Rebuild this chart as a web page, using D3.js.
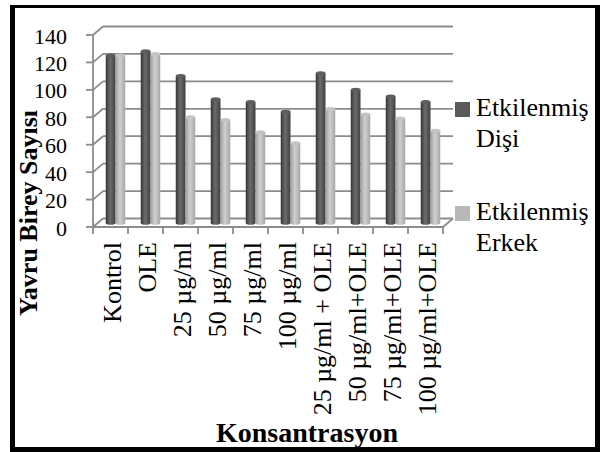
<!DOCTYPE html>
<html lang="tr">
<head>
  <meta charset="UTF-8">
  <title>Yavru Birey Sayısı</title>
  <script src="https://d3js.org/d3.v7.min.js"></script>
  <style>
    body { margin: 0; background: #fff; }
    svg { display: block; }
    text { font-family: "Liberation Serif", "Times New Roman", serif; fill: #000; }
  </style>
</head>
<body>
  <svg id="chart" width="600" height="452"></svg>
  <script>
    // Data
    const categories = ["Kontrol", "OLE", "25 µg/ml", "50 µg/ml", "75 µg/ml", "100 µg/ml",
      "25 µg/ml + OLE", "50 µg/ml+OLE", "75 µg/ml+OLE", "100 µg/ml+OLE"];
    const disi = [122, 125, 107, 90, 88, 81, 109, 97, 92, 88];
    const erkek = [122, 123, 77, 75, 66, 58, 83, 79, 76, 67];
    const yTicks = [0, 20, 40, 60, 80, 100, 120, 140];
    const seriesNames = ["Etkilenmiş Dişi", "Etkilenmiş Erkek"];

    const svg = d3.select("#chart");
    const gridColor = "#8c8c8c";

    // 3D depth offset of the back wall
    const dx = 10, dy = -8.5;

    const x = d3.scaleBand().domain(categories).range([93, 443]);
    const y = d3.scaleLinear().domain([0, 140]).range([227, 35]);
    const xs = d3.scaleBand().domain(["d", "e"]).range([0, 19.5]);

    // cylinder gradients
    const defs = svg.append("defs");
    function grad(id, stops) {
      const g = defs.append("linearGradient").attr("id", id)
        .attr("x1", "0%").attr("x2", "100%").attr("y1", "0%").attr("y2", "0%");
      stops.forEach(s => g.append("stop").attr("offset", s[0]).attr("stop-color", s[1]));
    }
    grad("gDark", [[0, "#353535"], [0.45, "#6c6c6c"], [1, "#404040"]]);
    grad("gLight", [[0, "#9e9e9e"], [0.45, "#d0d0d0"], [1, "#a6a6a6"]]);

    // back wall gridlines
    const grid = svg.append("g").attr("stroke", gridColor).attr("stroke-width", 1.8).attr("fill", "none");
    yTicks.forEach(v => {
      grid.append("line")
        .attr("x1", 93 + dx).attr("x2", 443 + dx)
        .attr("y1", y(v) + dy).attr("y2", y(v) + dy);
      grid.append("line")
        .attr("x1", 93).attr("x2", 93 + dx)
        .attr("y1", y(v)).attr("y2", y(v) + dy);
      grid.append("line")
        .attr("x1", 86).attr("x2", 93)
        .attr("y1", y(v)).attr("y2", y(v));
    });
    // front vertical axis
    grid.append("line").attr("x1", 93).attr("x2", 93).attr("y1", y(140)).attr("y2", y(0));
    // floor
    grid.append("line").attr("x1", 93).attr("x2", 443).attr("y1", y(0)).attr("y2", y(0));
    grid.append("line").attr("x1", 443).attr("x2", 443 + dx).attr("y1", y(0)).attr("y2", y(0) + dy);
    d3.range(categories.length + 1).forEach(i => {
      const xv = i < categories.length ? x(categories[i]) : x.range()[1];
      grid.append("line").attr("x1", xv).attr("x2", xv).attr("y1", y(0)).attr("y2", y(0) + 7);
    });

    // bars (cylinders) at mid depth
    const bars = svg.append("g").attr("transform", `translate(${dx / 2},${dy / 2})`);
    const offset = (x.bandwidth() - 19.5) / 2;
    function cylinder(cx, w, v, fill, topFill) {
      const g = bars.append("g");
      const y0 = y(0), y1 = y(v), ry = 2;
      g.append("ellipse").attr("cx", cx + w / 2).attr("cy", y0).attr("rx", w / 2).attr("ry", ry)
        .attr("fill", fill);
      g.append("rect").attr("x", cx).attr("y", y1).attr("width", w).attr("height", y0 - y1)
        .attr("fill", fill);
      g.append("ellipse").attr("cx", cx + w / 2).attr("cy", y1).attr("rx", w / 2).attr("ry", ry)
        .attr("fill", topFill);
    }
    categories.forEach((c, i) => {
      cylinder(x(c) + offset + xs("d"), xs.bandwidth(), disi[i], "url(#gDark)", "#5e5e5e");
      cylinder(x(c) + offset + xs("e"), xs.bandwidth(), erkek[i], "url(#gLight)", "#c4c4c4");
    });

    // y tick labels
    svg.append("g").selectAll("text").data(yTicks).join("text")
      .attr("x", 67).attr("y", d => y(d) + 8.5)
      .attr("text-anchor", "end").style("font-size", "22px")
      .text(d => d);

    // x tick labels (rotated)
    svg.append("g").selectAll("text").data(categories).join("text")
      .attr("transform", d => `translate(${x(d) + x.bandwidth() / 2 + 10},242) rotate(-90)`)
      .attr("text-anchor", "end").style("font-size", "26px")
      .text(d => d);

    // axis titles
    svg.append("text")
      .attr("transform", "translate(37,213) rotate(-90)")
      .attr("text-anchor", "middle").style("font-size", "26px").style("font-weight", "bold")
      .text("Yavru Birey Sayısı");
    svg.append("text")
      .attr("x", 307).attr("y", 442)
      .attr("text-anchor", "middle").style("font-size", "28px").style("font-weight", "bold")
      .text("Konsantrasyon");

    // legend
    const legendColors = ["#5a5a5a", "#b8b8b8"];
    const legendY = [102, 206];
    seriesNames.forEach((name, i) => {
      svg.append("rect").attr("x", 455).attr("y", legendY[i]).attr("width", 15).attr("height", 15)
        .attr("fill", legendColors[i]);
      const parts = name.split(" ");
      const t = svg.append("text").attr("x", 476).attr("y", legendY[i] + 14).style("font-size", "26px");
      t.append("tspan").attr("x", 476).text(parts[0]);
      t.append("tspan").attr("x", 476).attr("dy", 31).text(parts[1]);
    });

    // outer frame
    const frame = svg.append("g").attr("fill", "#000");
    frame.append("rect").attr("x", 10).attr("y", 5).attr("width", 590).attr("height", 3);
    frame.append("rect").attr("x", 10).attr("y", 447).attr("width", 590).attr("height", 5);
    frame.append("rect").attr("x", 10).attr("y", 5).attr("width", 5).attr("height", 447);
    frame.append("rect").attr("x", 595).attr("y", 5).attr("width", 5).attr("height", 447);
  </script>
</body>
</html>
